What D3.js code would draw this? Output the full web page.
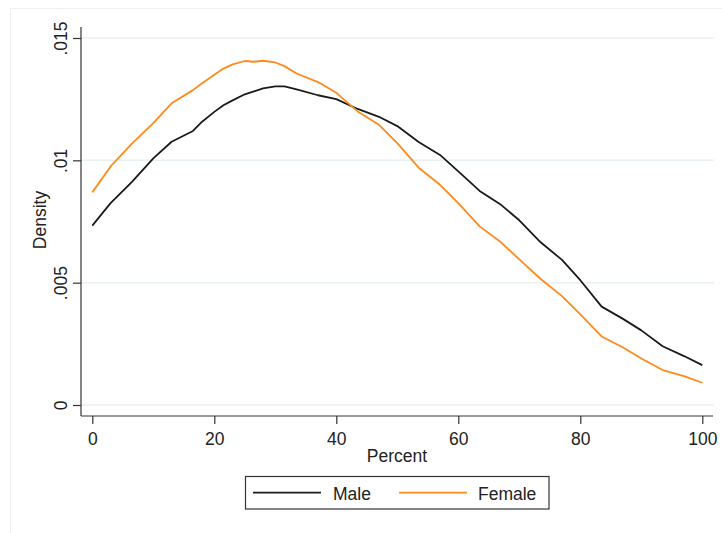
<!DOCTYPE html>
<html>
<head>
<meta charset="utf-8">
<script src="https://cdn.jsdelivr.net/npm/d3@7/dist/d3.min.js"></script>
<style>
  html, body { margin: 0; padding: 0; background: #fff; }
  svg { display: block; font-family: "Liberation Sans", Arial, sans-serif; }
</style>
</head>
<body>
<svg id="chart" width="722" height="533"></svg>
<script>
// Kernel density of percent, by sex
const percent = [0, 3, 6.5, 10, 13, 16.5, 18, 20, 21.5, 23, 25, 26.5, 28, 30, 31.5, 33.5, 37, 40,
  43.5, 47, 50, 53.5, 57, 60, 63.5, 67, 70, 73.5, 77, 80, 83.5, 87, 90, 93.5, 97, 100];
const male = [0.00733, 0.00825, 0.00912, 0.01008, 0.01076, 0.01120, 0.01158, 0.01198, 0.01225,
  0.01245, 0.01270, 0.01282, 0.01294, 0.01302, 0.01302, 0.01290, 0.01266, 0.01250, 0.01210,
  0.01178, 0.01140, 0.01075, 0.01022, 0.00955, 0.00875, 0.00818, 0.00755, 0.00665, 0.00593,
  0.00510, 0.00402, 0.00352, 0.00305, 0.00240, 0.00200, 0.00163];
const female = [0.00869, 0.00975, 0.01068, 0.01152, 0.01233, 0.01287, 0.01315, 0.01350, 0.01375,
  0.01392, 0.01406, 0.01403, 0.01407, 0.01400, 0.01385, 0.01355, 0.01320, 0.01276, 0.01200,
  0.01145, 0.01070, 0.00970, 0.00900, 0.00825, 0.00730, 0.00665, 0.00595, 0.00515, 0.00445,
  0.00370, 0.00280, 0.00235, 0.00190, 0.00143, 0.00118, 0.00091];
const xTicks = [0, 20, 40, 60, 80, 100];
const yTicks = [0, 0.005, 0.01, 0.015];
const yTickLabels = ["0", ".005", ".01", ".015"];
const seriesNames = ["Male", "Female"];
const seriesColors = ["#1a1a1a", "#ff8a1c"];

const svg = d3.select("#chart");

// faint outer graph frame
svg.append("rect")
  .attr("x", 10.5).attr("y", 8.5).attr("width", 712).attr("height", 540)
  .attr("fill", "none").attr("stroke", "#eef1f4").attr("stroke-width", 1);

const plot = { left: 81, right: 713, top: 27, bottom: 416 };
const x = d3.scaleLinear().domain([0, 100]).range([92.3, 702.3]);
const y = d3.scaleLinear().domain([0, 0.015]).range([405, 38]);

// horizontal gridlines
svg.append("g").selectAll("line").data(yTicks).join("line")
  .attr("x1", plot.left).attr("x2", plot.right + 1)
  .attr("y1", d => y(d)).attr("y2", d => y(d))
  .attr("stroke", "#e8f0f3").attr("stroke-width", 1.5);

// y axis
const yAxis = svg.append("g")
  .attr("transform", `translate(${plot.left},0)`)
  .call(d3.axisLeft(y).tickValues(yTicks).tickSize(8).tickSizeOuter(0)
    .tickFormat((d, i) => yTickLabels[i]));
yAxis.select(".domain").remove();
yAxis.append("line")
  .attr("x1", 0).attr("x2", 0).attr("y1", plot.top).attr("y2", plot.bottom)
  .attr("stroke", "#333").attr("stroke-width", 1.2);
yAxis.selectAll(".tick line").attr("stroke", "#333").attr("stroke-width", 1.2);
yAxis.selectAll(".tick text")
  .attr("x", null).attr("dy", null)
  .attr("transform", "translate(-14,0) rotate(-90)")
  .attr("text-anchor", "middle")
  .attr("fill", "#222")
  .style("font-size", "17.5px");

// x axis
const xAxis = svg.append("g")
  .attr("transform", `translate(0,${plot.bottom})`)
  .call(d3.axisBottom(x).tickValues(xTicks).tickSize(8).tickSizeOuter(0));
xAxis.select(".domain").remove();
xAxis.append("line")
  .attr("x1", plot.left).attr("x2", plot.right).attr("y1", 0).attr("y2", 0)
  .attr("stroke", "#333").attr("stroke-width", 1.2);
xAxis.selectAll(".tick line").attr("stroke", "#333").attr("stroke-width", 1.2);
xAxis.selectAll(".tick text")
  .attr("y", 29).attr("dy", null)
  .attr("fill", "#222")
  .style("font-size", "17.5px");

// axis titles
svg.append("text")
  .attr("transform", "translate(46,220) rotate(-90)")
  .attr("text-anchor", "middle")
  .attr("fill", "#222")
  .style("font-size", "17.5px")
  .text("Density");
svg.append("text")
  .attr("x", (plot.left + plot.right) / 2).attr("y", 462)
  .attr("text-anchor", "middle")
  .attr("fill", "#222")
  .style("font-size", "17.5px")
  .text("Percent");

// density curves
const line = d3.line()
  .x((d, i) => x(percent[i]))
  .y(d => y(d));
[male, female].forEach((vals, k) => {
  svg.append("path")
    .datum(vals)
    .attr("d", line)
    .attr("fill", "none")
    .attr("stroke", seriesColors[k])
    .attr("stroke-width", 1.8)
    .attr("stroke-linejoin", "round");
});

// legend
const legend = svg.append("g");
legend.append("rect")
  .attr("x", 245.5).attr("y", 476.5).attr("width", 303.5).attr("height", 32.5)
  .attr("fill", "#fff").attr("stroke", "#333").attr("stroke-width", 1.2);
const legendItems = [
  { x0: 253, x1: 321, tx: 333 },
  { x0: 399, x1: 467, tx: 478 }
];
legendItems.forEach((it, k) => {
  legend.append("line")
    .attr("x1", it.x0).attr("x2", it.x1).attr("y1", 492.7).attr("y2", 492.7)
    .attr("stroke", seriesColors[k]).attr("stroke-width", 1.8);
  legend.append("text")
    .attr("x", it.tx).attr("y", 499.5)
    .attr("fill", "#222")
    .style("font-size", "17.5px")
    .text(seriesNames[k]);
});
</script>
</body>
</html>
